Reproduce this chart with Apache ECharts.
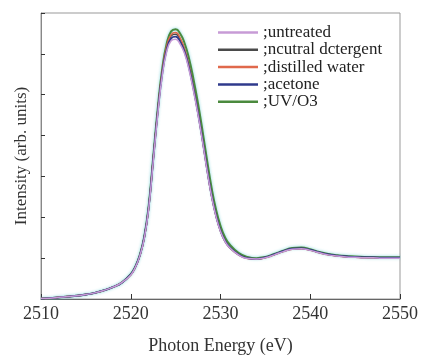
<!DOCTYPE html>
<html>
<head>
<meta charset="utf-8">
<script src="https://cdn.jsdelivr.net/npm/echarts@6/dist/echarts.min.js"></script>
<style>
  html, body { margin: 0; padding: 0; background: #fff; }
  #chart { width: 421px; height: 360px; }
</style>
</head>
<body>
<div id="chart"></div>
<script>
// photon energy (eV)
const energy = [2510, 2511, 2512, 2513, 2514, 2515, 2516, 2517, 2518, 2519, 2520, 2520.5, 2521, 2521.5, 2522, 2522.5, 2523, 2523.5, 2524, 2524.5, 2525, 2525.5, 2526, 2526.5, 2527, 2527.5, 2528, 2528.5, 2529, 2529.5, 2530, 2530.5, 2531, 2532, 2533, 2534, 2535, 2536, 2537, 2538, 2539, 2540, 2541, 2542, 2543, 2544, 2545, 2546, 2547, 2548, 2549, 2550];

const untreated = [0.01, 0.02, 0.04, 0.06, 0.08, 0.11, 0.15, 0.21, 0.29, 0.40, 0.59, 0.77, 1.05, 1.48, 2.22, 3.36, 4.50, 5.45, 6.05, 6.32, 6.36, 6.24, 6.00, 5.60, 5.08, 4.50, 3.85, 3.15, 2.52, 2.02, 1.65, 1.41, 1.26, 1.08, 0.99, 0.98, 1.01, 1.08, 1.16, 1.22, 1.23, 1.19, 1.13, 1.08, 1.05, 1.03, 1.02, 1.01, 1.01, 1.00, 1.00, 1.00];
const neutralDetergent = [0.01, 0.02, 0.04, 0.06, 0.08, 0.11, 0.15, 0.21, 0.29, 0.40, 0.60, 0.78, 1.06, 1.50, 2.25, 3.42, 4.58, 5.54, 6.15, 6.44, 6.48, 6.36, 6.10, 5.69, 5.16, 4.57, 3.90, 3.20, 2.55, 2.05, 1.68, 1.43, 1.27, 1.09, 1.00, 0.98, 1.02, 1.09, 1.17, 1.23, 1.24, 1.20, 1.14, 1.09, 1.06, 1.04, 1.03, 1.02, 1.02, 1.01, 1.01, 1.01];
const distilledWater = [0.01, 0.02, 0.04, 0.06, 0.08, 0.11, 0.15, 0.21, 0.29, 0.40, 0.59, 0.77, 1.05, 1.49, 2.24, 3.41, 4.58, 5.56, 6.18, 6.47, 6.52, 6.39, 6.11, 5.69, 5.15, 4.55, 3.88, 3.17, 2.53, 2.03, 1.66, 1.41, 1.26, 1.08, 0.99, 0.97, 1.01, 1.08, 1.16, 1.22, 1.23, 1.19, 1.13, 1.08, 1.05, 1.03, 1.02, 1.01, 1.01, 1.00, 1.00, 1.00];
const acetone = [0.01, 0.02, 0.04, 0.06, 0.08, 0.11, 0.15, 0.21, 0.29, 0.40, 0.60, 0.78, 1.06, 1.50, 2.25, 3.40, 4.55, 5.50, 6.10, 6.38, 6.42, 6.30, 6.05, 5.65, 5.13, 4.54, 3.88, 3.18, 2.54, 2.04, 1.67, 1.42, 1.27, 1.09, 1.00, 0.98, 1.02, 1.09, 1.17, 1.23, 1.24, 1.20, 1.14, 1.09, 1.06, 1.04, 1.03, 1.02, 1.02, 1.01, 1.01, 1.01];
const uvO3 = [0.01, 0.02, 0.04, 0.06, 0.08, 0.11, 0.15, 0.21, 0.29, 0.40, 0.61, 0.79, 1.07, 1.52, 2.28, 3.46, 4.64, 5.62, 6.25, 6.55, 6.60, 6.50, 6.26, 5.88, 5.37, 4.78, 4.11, 3.40, 2.73, 2.19, 1.79, 1.51, 1.34, 1.13, 1.03, 1.00, 1.03, 1.10, 1.18, 1.25, 1.26, 1.22, 1.15, 1.10, 1.07, 1.05, 1.04, 1.03, 1.02, 1.02, 1.02, 1.02];

const xTicks = [2510, 2520, 2530, 2540, 2550];

const serif = "Liberation Serif";

const pairs = (ys) => energy.map((e, i) => [e, ys[i]]);

// drawn bottom to top, legend keeps the original order
const lines = [
  { name: ";UV/O3", data: uvO3, color: "#4b8a3e", width: 2, halo: "rgba(60,190,200,0.7)" },
  { name: ";ncutral dctergent", data: neutralDetergent, color: "#4a4a4a", width: 1.5 },
  { name: ";distilled water", data: distilledWater, color: "#e0694c", width: 1.5 },
  { name: ";acetone", data: acetone, color: "#2f3a8c", width: 1.8 },
  { name: ";untreated", data: untreated, color: "#c79bd6", width: 1.5 },
];

const chart = echarts.init(document.getElementById("chart"));

chart.setOption({
  animation: false,
  grid: {
    left: 41,
    right: 20,
    top: 13,
    bottom: 57,
    show: true,
    borderColor: "#999",
    borderWidth: 1,
  },
  legend: {
    data: [";untreated", ";ncutral dctergent", ";distilled water", ";acetone", ";UV/O3"],
    orient: "vertical",
    left: 213,
    top: 19,
    icon: "rect",
    itemWidth: 40,
    itemHeight: 2.5,
    itemGap: 0.3,
    textStyle: {
      fontFamily: serif,
      fontSize: 17,
      lineHeight: 17,
      color: "#222",
    },
  },
  xAxis: {
    type: "value",
    min: 2510,
    max: 2550,
    interval: 10,
    name: "Photon Energy (eV)",
    nameLocation: "middle",
    nameGap: 38,
    nameTextStyle: { fontFamily: serif, fontSize: 18, color: "#333" },
    axisLine: { lineStyle: { color: "#666" } },
    axisTick: { inside: true, length: 5, lineStyle: { color: "#333" } },
    axisLabel: {
      fontFamily: serif,
      fontSize: 18,
      color: "#333",
      margin: 6,
      formatter: (v) => (xTicks.includes(v) ? String(v) : ""),
    },
    splitLine: { show: false },
  },
  yAxis: {
    type: "value",
    min: 0,
    max: 7,
    interval: 1,
    name: "Intensity (arb. units)",
    nameLocation: "middle",
    nameGap: 11,
    nameTextStyle: { fontFamily: serif, fontSize: 17, color: "#333" },
    axisLine: { show: true, lineStyle: { color: "#888" } },
    axisTick: { show: true, inside: true, length: 4, lineStyle: { color: "#333" } },
    axisLabel: { show: false },
    splitLine: { show: false },
  },
  series: lines.map((l) => ({
    name: l.name,
    type: "line",
    data: pairs(l.data),
    smooth: 0.5,
    showSymbol: false,
    itemStyle: { color: l.color },
    lineStyle: l.halo
      ? { color: l.color, width: l.width, shadowColor: l.halo, shadowBlur: 3 }
      : { color: l.color, width: l.width },
  })),
});
</script>
</body>
</html>
